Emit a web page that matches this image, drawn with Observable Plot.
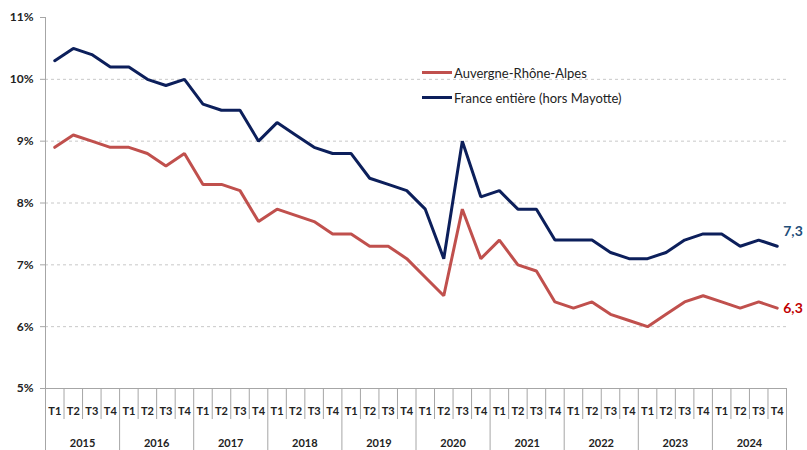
<!DOCTYPE html>
<html><head><meta charset="utf-8">
<script src="https://cdn.jsdelivr.net/npm/d3@7"></script>
<script src="https://cdn.jsdelivr.net/npm/@observablehq/plot@0.6"></script>
<style>
body{margin:0;background:#fff;font-family:Lato,"Open Sans",sans-serif}
#wrap{position:relative;width:807px;height:450px;overflow:hidden}
#legend{position:absolute;left:422px;top:60px;font-size:13px;color:#222}
#legend .row{display:flex;align-items:center;height:25px}
#legend .sw{width:30px;height:3px;margin-right:2px}
</style>
</head><body><div id="wrap"><div id="legend"></div></div>
<script>
const years = [2015,2016,2017,2018,2019,2020,2021,2022,2023,2024];
const quarters = ["T1","T2","T3","T4"];
const seriesNames = ["Auvergne-Rhône-Alpes","France entière (hors Mayotte)"];
const ara = [8.9,9.1,9.0,8.9, 8.9,8.8,8.6,8.8, 8.3,8.3,8.2,7.7, 7.9,7.8,7.7,7.5, 7.5,7.3,7.3,7.1, 6.8,6.5,7.9,7.1, 7.4,7.0,6.9,6.4, 6.3,6.4,6.2,6.1, 6.0,6.2,6.4,6.5, 6.4,6.3,6.4,6.3];
const france = [10.3,10.5,10.4,10.2, 10.2,10.0,9.9,10.0, 9.6,9.5,9.5,9.0, 9.3,9.1,8.9,8.8, 8.8,8.4,8.3,8.2, 7.9,7.1,9.0,8.1, 8.2,7.9,7.9,7.4, 7.4,7.4,7.2,7.1, 7.1,7.2,7.4,7.5, 7.5,7.3,7.4,7.3];
const yTicks = [5,6,7,8,9,10,11];
const colors = ["#c0504d","#0c1f5b"];
const labelColors = ["#c00000","#1f4e79"];

const n = years.length * quarters.length;
const rows = [];
for (let i = 0; i < n; i++) {
  rows.push({i, s: seriesNames[0], v: ara[i]});
  rows.push({i, s: seriesNames[1], v: france[i]});
}
const boundaries = d3.range(n + 1).map(k => k - 0.5);
const shortB = boundaries.filter((b, k) => k % 4 !== 0);
const longB = boundaries.filter((b, k) => k % 4 === 0);
const yearCenters = years.map((y, k) => k * 4 + 1.5);
const lastAra = [{i: n - 1, v: ara[n - 1]}];
const lastFr = [{i: n - 1, v: france[n - 1]}];
const fmt = v => v.toFixed(1).replace(".", ",");

const chart = Plot.plot({
  width: 807, height: 450,
  marginLeft: 45, marginRight: 21, marginTop: 17, marginBottom: 62,
  style: {fontFamily: "Lato, 'Open Sans', sans-serif", background: "white", overflow: "visible"},
  x: {domain: [-0.5, n - 0.5], axis: null},
  y: {domain: [5, 11], axis: null},
  color: {domain: seriesNames, range: colors},
  marks: [
    Plot.gridY(yTicks.slice(1, -1), {stroke: "#c8c8c8", strokeOpacity: 1, strokeDasharray: "3,3"}),
    Plot.ruleY([5], {stroke: "#a6a6a6"}),
    Plot.axisY(yTicks, {label: null, tickFormat: d => d + "%", tickSize: 5, tickPadding: 7, fontWeight: "bold", fontSize: 12, stroke: "#a6a6a6", fill: "#222"}),
    Plot.ruleX([-0.5], {y1: 5, y2: 11, stroke: "#a6a6a6"}),
    Plot.axisX(shortB, {label: null, anchor: "bottom", tickSize: 31, tickFormat: () => "", stroke: "#a6a6a6"}),
    Plot.axisX(longB, {label: null, anchor: "bottom", tickSize: 62, tickFormat: () => "", stroke: "#a6a6a6"}),
    Plot.axisX(d3.range(n), {label: null, anchor: "bottom", tickSize: 0, tickPadding: 19, tickFormat: i => quarters[i % 4], fontWeight: "bold", fontSize: 11, fill: "#222"}),
    Plot.axisX(yearCenters, {label: null, anchor: "bottom", tickSize: 0, tickPadding: 51, tickFormat: (c, k) => String(years[k]), fontWeight: "bold", fontSize: 11, fill: "#222"}),
    Plot.line(rows, {x: "i", y: "v", z: "s", stroke: "s", strokeWidth: 3, strokeLinejoin: "miter"}),
    Plot.text(lastFr, {x: "i", y: "v", text: d => fmt(d.v), dx: 6, dy: -15, textAnchor: "start", fill: labelColors[1], fontWeight: "bold", fontSize: 14}),
    Plot.text(lastAra, {x: "i", y: "v", text: d => fmt(d.v), dx: 6, dy: 0, textAnchor: "start", fill: labelColors[0], fontWeight: "bold", fontSize: 14})
  ]
});
const wrap = document.getElementById("wrap");
wrap.insertBefore(chart, wrap.firstChild);

const legend = document.getElementById("legend");
seriesNames.forEach((s, k) => {
  const row = document.createElement("div");
  row.className = "row";
  const sw = document.createElement("span");
  sw.className = "sw";
  sw.style.background = colors[k];
  const t = document.createElement("span");
  t.textContent = s;
  row.appendChild(sw); row.appendChild(t);
  legend.appendChild(row);
});
</script>
</body></html>
